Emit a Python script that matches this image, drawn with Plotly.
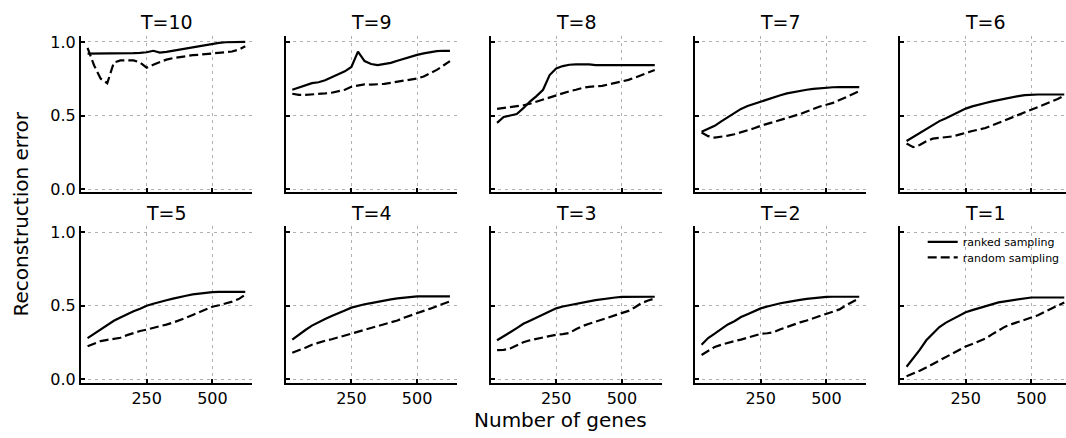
import plotly.graph_objects as go

genes = [25, 50, 75, 100, 125, 150, 175, 200, 225, 250, 275, 300, 325,
         350, 375, 400, 425, 450, 475, 500, 525, 550, 575, 600, 625]

panel_titles = ["T=10", "T=9", "T=8", "T=7", "T=6", "T=5", "T=4", "T=3", "T=2", "T=1"]

ranked_T10 = [0.92, 0.92, 0.92, 0.92, 0.92, 0.92, 0.922, 0.924, 0.926, 0.93, 0.94, 0.928, 0.932,
              0.94, 0.947, 0.955, 0.963, 0.972, 0.98, 0.988, 0.994, 0.998, 1.0, 1.0, 1.0]
random_T10 = [0.96, 0.84, 0.75, 0.72, 0.86, 0.875, 0.875, 0.875, 0.86, 0.825, 0.845, 0.865, 0.88,
              0.89, 0.897, 0.905, 0.91, 0.913, 0.917, 0.92, 0.922, 0.927, 0.935, 0.948, 0.97]

ranked_T9 = [0.675, 0.69, 0.705, 0.72, 0.726, 0.74, 0.76, 0.778, 0.80, 0.83, 0.934, 0.87, 0.85,
             0.842, 0.848, 0.858, 0.872, 0.886, 0.898, 0.912, 0.922, 0.93, 0.937, 0.94, 0.94]
random_T9 = [0.648, 0.64, 0.64, 0.642, 0.646, 0.65, 0.655, 0.663, 0.675, 0.695, 0.705, 0.712, 0.71,
             0.71, 0.715, 0.722, 0.73, 0.736, 0.743, 0.752, 0.765, 0.785, 0.81, 0.84, 0.87]

ranked_T8 = [0.45, 0.49, 0.50, 0.51, 0.55, 0.595, 0.632, 0.675, 0.775, 0.82, 0.836, 0.845, 0.848,
             0.849, 0.848, 0.842, 0.84, 0.842, 0.842, 0.843, 0.844, 0.844, 0.843, 0.843, 0.842]
random_T8 = [0.545, 0.55, 0.557, 0.563, 0.57, 0.58, 0.595, 0.61, 0.625, 0.637, 0.65, 0.665, 0.675,
             0.688, 0.695, 0.698, 0.702, 0.712, 0.722, 0.73, 0.742, 0.758, 0.775, 0.792, 0.81]

ranked_T7 = [0.39, 0.41, 0.43, 0.46, 0.49, 0.52, 0.545, 0.565, 0.58, 0.593, 0.612, 0.626, 0.638,
             0.65, 0.66, 0.667, 0.675, 0.681, 0.686, 0.69, 0.692, 0.693, 0.693, 0.693, 0.693]
random_T7 = [0.385, 0.36, 0.35, 0.355, 0.363, 0.373, 0.385, 0.398, 0.413, 0.43, 0.443, 0.455, 0.467,
             0.48, 0.495, 0.51, 0.527, 0.545, 0.561, 0.573, 0.586, 0.605, 0.625, 0.645, 0.665]

ranked_T6 = [0.327, 0.355, 0.38, 0.405, 0.433, 0.462, 0.482, 0.505, 0.527, 0.547, 0.562, 0.576, 0.585,
             0.596, 0.606, 0.615, 0.625, 0.632, 0.638, 0.642, 0.643, 0.643, 0.643, 0.643, 0.643]
random_T6 = [0.31, 0.285, 0.30, 0.325, 0.343, 0.348, 0.352, 0.358, 0.37, 0.385, 0.395, 0.405, 0.415,
             0.432, 0.45, 0.468, 0.485, 0.502, 0.52, 0.538, 0.556, 0.573, 0.59, 0.612, 0.635]

ranked_T5 = [0.28, 0.31, 0.34, 0.37, 0.398, 0.42, 0.443, 0.462, 0.48, 0.50, 0.513, 0.527, 0.537,
             0.548, 0.56, 0.568, 0.577, 0.584, 0.589, 0.593, 0.594, 0.594, 0.594, 0.594, 0.594]
random_T5 = [0.225, 0.245, 0.26, 0.268, 0.275, 0.282, 0.30, 0.316, 0.328, 0.338, 0.348, 0.36, 0.372,
             0.385, 0.40, 0.418, 0.437, 0.455, 0.475, 0.493, 0.503, 0.515, 0.528, 0.545, 0.575]

ranked_T4 = [0.27, 0.305, 0.335, 0.365, 0.39, 0.41, 0.43, 0.447, 0.468, 0.487, 0.50, 0.51, 0.518,
             0.528, 0.536, 0.543, 0.55, 0.556, 0.561, 0.564, 0.564, 0.564, 0.564, 0.564, 0.564]
random_T4 = [0.18, 0.195, 0.215, 0.235, 0.25, 0.262, 0.272, 0.285, 0.298, 0.31, 0.322, 0.335, 0.348,
             0.36, 0.372, 0.385, 0.40, 0.418, 0.435, 0.45, 0.465, 0.48, 0.497, 0.512, 0.53]

ranked_T3 = [0.265, 0.295, 0.32, 0.348, 0.377, 0.398, 0.42, 0.44, 0.46, 0.482, 0.495, 0.505, 0.515,
             0.522, 0.53, 0.538, 0.545, 0.551, 0.556, 0.56, 0.561, 0.561, 0.561, 0.561, 0.561]
random_T3 = [0.198, 0.20, 0.21, 0.232, 0.252, 0.265, 0.275, 0.285, 0.294, 0.303, 0.307, 0.315, 0.34,
             0.362, 0.377, 0.392, 0.404, 0.418, 0.432, 0.448, 0.465, 0.49, 0.518, 0.535, 0.55]

ranked_T2 = [0.235, 0.28, 0.31, 0.34, 0.373, 0.395, 0.423, 0.442, 0.462, 0.482, 0.495, 0.508, 0.517,
             0.525, 0.534, 0.54, 0.546, 0.552, 0.557, 0.56, 0.561, 0.561, 0.561, 0.561, 0.561]
random_T2 = [0.165, 0.195, 0.22, 0.235, 0.25, 0.26, 0.27, 0.283, 0.296, 0.309, 0.313, 0.32, 0.34,
             0.357, 0.373, 0.387, 0.40, 0.415, 0.43, 0.449, 0.46, 0.475, 0.503, 0.527, 0.55]

ranked_T1 = [0.085, 0.14, 0.20, 0.265, 0.31, 0.355, 0.385, 0.41, 0.435, 0.456, 0.47, 0.483, 0.495,
             0.51, 0.523, 0.53, 0.537, 0.545, 0.551, 0.556, 0.556, 0.556, 0.556, 0.556, 0.556]
random_T1 = [0.02, 0.038, 0.058, 0.08, 0.103, 0.128, 0.152, 0.176, 0.20, 0.223, 0.24, 0.258, 0.277,
             0.305, 0.332, 0.358, 0.375, 0.39, 0.405, 0.418, 0.435, 0.458, 0.48, 0.50, 0.522]

ranked = [ranked_T10, ranked_T9, ranked_T8, ranked_T7, ranked_T6,
          ranked_T5, ranked_T4, ranked_T3, ranked_T2, ranked_T1]
random_ = [random_T10, random_T9, random_T8, random_T7, random_T6,
           random_T5, random_T4, random_T3, random_T2, random_T1]

x_tick_vals = [250, 500]
y_tick_vals = [0.0, 0.5, 1.0]
y_tick_text = ["0.0", "0.5", "1.0"]

W, H = 1066, 438
FONT = "DejaVu Sans"
col_left = [81.0, 285.7, 490.5, 695.0, 900.0]
panel_w = 171.0
px_per_unit = 0.2628
row_px = [(33.3, 193.3), (227.5, 387.5)]
y_range = [-0.022, 1.043]

legend_common = dict(x=(962.7 - 40) / W, xanchor="left", yanchor="top",
                     bgcolor="rgba(0,0,0,0)", font=dict(size=11, family=FONT))

fig = go.Figure()
layout = dict(
    width=W, height=H,
    margin=dict(l=0, r=0, t=0, b=0),
    paper_bgcolor="white", plot_bgcolor="white",
    font=dict(family=FONT, color="black"),
    showlegend=True,
    legend=dict(y=1 - 229 / H, **legend_common),
    legend2=dict(y=1 - 245 / H, **legend_common),
)
annotations = []

for i in range(10):
    r, c = divmod(i, 5)
    k = "" if i == 0 else str(i + 1)
    left = col_left[c]
    right = min(left + panel_w, W)
    top_px, bot_px = row_px[r]
    grid = dict(showgrid=True, gridcolor="#b0b0b0", gridwidth=1.2, griddash="3px,4px")
    layout["xaxis" + k] = dict(
        domain=[left / W, right / W], anchor="y" + k,
        range=[0, (right - left) / px_per_unit],
        tickvals=x_tick_vals, ticktext=[str(v) for v in x_tick_vals],
        showticklabels=(r == 1), ticks="inside", ticklen=4, tickwidth=1.5, tickcolor="black",
        showline=True, linecolor="black", linewidth=2, zeroline=False,
        tickfont=dict(size=16, family=FONT), **grid)
    layout["yaxis" + k] = dict(
        domain=[1 - bot_px / H, 1 - top_px / H], anchor="x" + k,
        range=y_range, tickvals=y_tick_vals, ticktext=y_tick_text,
        showticklabels=(c == 0), ticks="inside", ticklen=4, tickwidth=1.5, tickcolor="black",
        showline=True, linecolor="black", linewidth=2, zeroline=False,
        tickfont=dict(size=16, family=FONT), **grid)
    fig.add_trace(go.Scatter(x=genes, y=ranked[i], mode="lines", name="ranked sampling",
                             line=dict(color="black", width=2.2),
                             xaxis="x" + k, yaxis="y" + k, showlegend=(i == 9),
                             legend="legend"))
    fig.add_trace(go.Scatter(x=genes, y=random_[i], mode="lines", name="random sampling",
                             line=dict(color="black", width=2.2, dash="9px,4px"),
                             xaxis="x" + k, yaxis="y" + k, showlegend=(i == 9),
                             legend="legend2"))
    annotations.append(dict(text=panel_titles[i], x=(left + panel_w / 2) / W,
                            y=1 - (top_px - 13.5) / H, xref="paper", yref="paper",
                            xanchor="center", yanchor="middle", showarrow=False,
                            font=dict(size=19, family=FONT)))

annotations.append(dict(text="Reconstruction error", x=21 / W, y=1 - 216 / H,
                        xref="paper", yref="paper", textangle=-90, showarrow=False,
                        xanchor="center", yanchor="middle", font=dict(size=20, family=FONT)))
annotations.append(dict(text="Number of genes", x=560 / W, y=1 - 426 / H,
                        xref="paper", yref="paper", showarrow=False,
                        xanchor="center", yanchor="middle", font=dict(size=20, family=FONT)))
layout["annotations"] = annotations
fig.update_layout(**layout)
fig.write_html("out.html")
